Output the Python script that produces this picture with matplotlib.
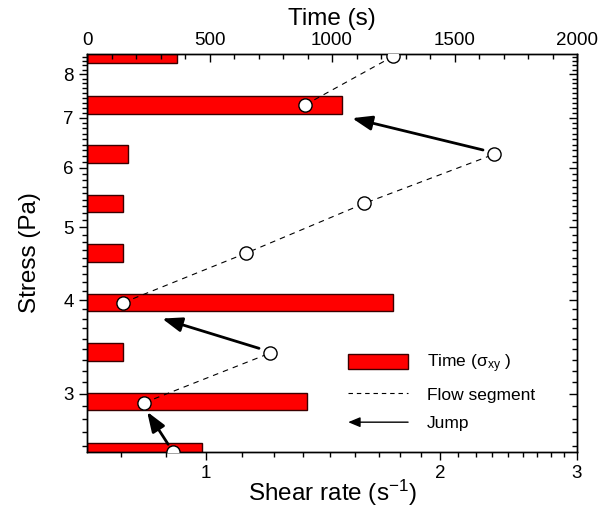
import matplotlib
matplotlib.use('Agg')
import numpy as np
import matplotlib.pyplot as plt
from matplotlib.patches import Patch, FancyArrowPatch
from matplotlib.lines import Line2D
from matplotlib.legend_handler import HandlerBase
from matplotlib.ticker import FixedLocator, MultipleLocator, NullFormatter, FuncFormatter

plt.rcParams['font.family'] = ['Liberation Sans', 'DejaVu Sans']
plt.rcParams['mathtext.fontset'] = 'custom'
plt.rcParams['mathtext.rm'] = 'Liberation Sans'
plt.rcParams['mathtext.it'] = 'Liberation Sans:italic'

# stress steps (Pa) and time spent at each step (s) -> red bars on the time axis
stress_levels = [2.51, 2.93, 3.41, 3.97, 4.62, 5.38, 6.26, 7.28, 8.50]
time_at_level = [471, 898, 148, 1250, 147, 148, 169, 1041, 369]

# flow segments: shear rate (1/s) vs stress (Pa)
seg1_shear, seg1_stress = [0.908], [2.51]
seg2_shear, seg2_stress = [0.833, 1.209], [2.92, 3.40]
seg3_shear, seg3_stress = [0.783, 1.126, 1.597, 2.349], [3.97, 4.62, 5.38, 6.26]
seg4_shear, seg4_stress = [1.341, 1.740], [7.28, 8.45]

# jumps between segments (tail -> tip)
jump_from_shear = [0.894, 1.170, 2.271]
jump_from_stress = [2.57, 3.45, 6.34]
jump_to_shear = [0.840, 0.878, 1.541]
jump_to_stress = [2.84, 3.78, 6.99]

bar_half = 0.0117  # half bar height in decades


class ArrowHandler(HandlerBase):
    def create_artists(self, legend, orig_handle, xdescent, ydescent,
                       width, height, fontsize, trans):
        y = height / 2 - ydescent
        arr = FancyArrowPatch((width - xdescent, y), (-xdescent, y),
                              arrowstyle='-|>,head_length=0.6,head_width=0.25',
                              mutation_scale=12, lw=1.0, color='k',
                              shrinkA=0, shrinkB=0, transform=trans)
        return [arr]


fig = plt.figure(figsize=(6, 5.17), dpi=100)
ax = fig.add_axes([0.145, 0.1257, 0.8167, 0.7698])
ax2 = ax.twiny()
ax.set_zorder(2)
ax2.set_zorder(1)
ax.patch.set_visible(False)

ax.set_xscale('log')
ax.set_yscale('log')

# bars on time axis
lv = np.array(stress_levels)
lo = lv * 10 ** (-bar_half)
hi = lv * 10 ** (bar_half)
ax2.barh(lo, time_at_level, height=hi - lo, left=0, align='edge',
         color='#ff0000', edgecolor='#3a0000', linewidth=1.0)

# flow segments
for xs, ys in [(seg1_shear, seg1_stress), (seg2_shear, seg2_stress),
               (seg3_shear, seg3_stress), (seg4_shear, seg4_stress)]:
    ax.plot(xs, ys, color='k', lw=0.8, ls=(0, (5, 4.5)), zorder=2)
    ax.plot(xs, ys, ls='none', marker='o', ms=9.5, mfc='white', mec='k',
            mew=1.0, zorder=5)

# jumps
for x0, y0, x1, y1 in zip(jump_from_shear, jump_from_stress,
                          jump_to_shear, jump_to_stress):
    ax.annotate('', xy=(x1, y1), xytext=(x0, y0),
                arrowprops=dict(arrowstyle='-|>,head_length=0.6,head_width=0.22',
                                mutation_scale=20, lw=2.0, color='k',
                                shrinkA=0, shrinkB=0), zorder=4)

ax.set_xlim(0.703, 3)
ax.set_ylim(2.51, 8.51)
ax2.set_xlim(0, 2000)

# ticks
xminor = [k + j / 9 for k in range(0, 3) for j in range(1, 9)]
yminor = [k + j / 9 for k in range(2, 9) for j in range(1, 9)]
ax.xaxis.set_major_locator(FixedLocator([1, 2, 3]))
ax.xaxis.set_minor_locator(FixedLocator(xminor))
ax.yaxis.set_major_locator(FixedLocator([3, 4, 5, 6, 7, 8]))
ax.yaxis.set_minor_locator(FixedLocator(yminor))
fmt = FuncFormatter(lambda v, p: f'{v:g}')
ax.xaxis.set_major_formatter(fmt)
ax.yaxis.set_major_formatter(fmt)
ax.xaxis.set_minor_formatter(NullFormatter())
ax.yaxis.set_minor_formatter(NullFormatter())
ax.tick_params(which='both', direction='out', top=False, right=False,
               labelsize=13.5, width=1.0)
ax.tick_params(which='major', length=6)
ax.tick_params(which='minor', length=3.5)

ax2.xaxis.set_major_locator(MultipleLocator(500))
ax2.xaxis.set_minor_locator(MultipleLocator(100))
ax2.yaxis.set_visible(True)
ax2.yaxis.tick_right()
ax2.tick_params(which='both', direction='in', labelsize=13.5, width=1.0,
                labelright=False, left=False)
ax2.tick_params(which='major', length=6)
ax2.tick_params(which='minor', length=3.5)

for a in (ax, ax2):
    for s in a.spines.values():
        s.set_linewidth(1.0)

ax.set_xlabel('Shear rate (s$^{-1}$)', fontsize=17.5, labelpad=-3)
ax.set_ylabel('Stress (Pa)', fontsize=17.5, labelpad=16)
ax2.set_xlabel('Time (s)', fontsize=17.5, labelpad=5)

# legend
bar_handle = Patch(facecolor='#ff0000', edgecolor='#3a0000', linewidth=1.0)
flow_handle = Line2D([], [], color='k', lw=0.8, ls=(0, (4, 3.5)))
jump_handle = Line2D([], [])
ax.legend([bar_handle, flow_handle, jump_handle],
          ['Time (σ$_{\\mathrm{xy}}$ )', 'Flow segment', 'Jump'],
          handler_map={jump_handle: ArrowHandler()},
          loc='upper left', bbox_to_anchor=(0.533, 0.25), frameon=False,
          fontsize=12.5, handlelength=3.45, handleheight=1.0,
          handletextpad=1.1, labelspacing=0.65, borderpad=0, borderaxespad=0)

fig.savefig('out.png', dpi=100)
